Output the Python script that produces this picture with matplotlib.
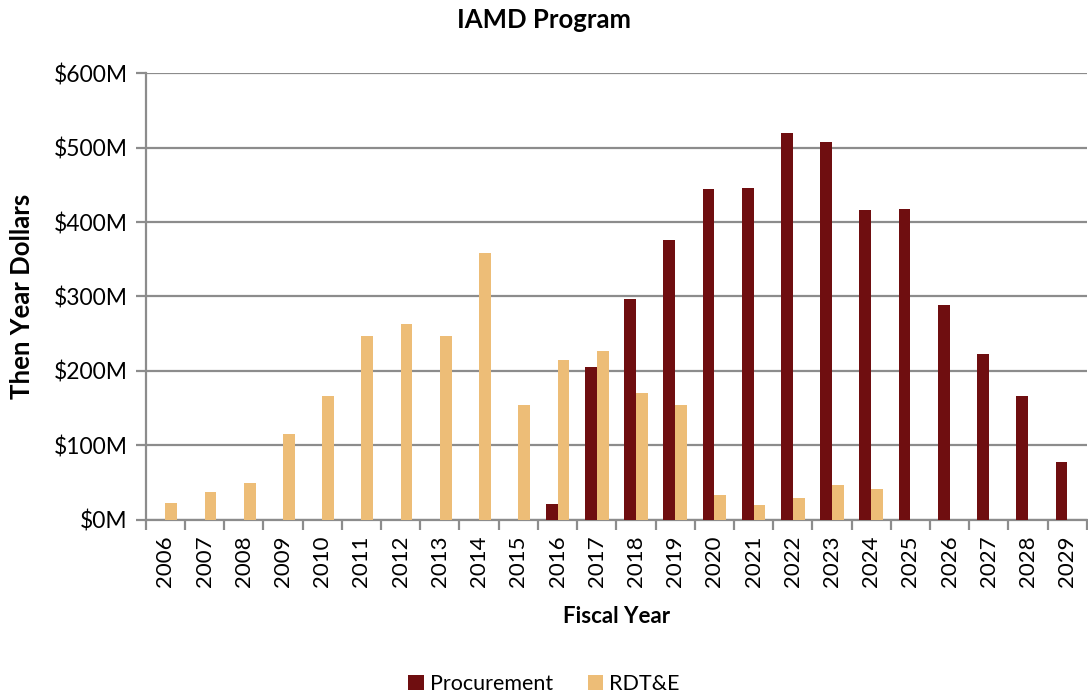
import numpy as np
import matplotlib.pyplot as plt
from matplotlib.ticker import FuncFormatter, MultipleLocator, FixedLocator

plt.rcParams["font.family"] = ["Lato", "DejaVu Sans"]

years = [str(y) for y in range(2006, 2030)]
procurement = [0, 0, 0, 0, 0, 0, 0, 0, 0, 0, 21, 205, 297, 376, 445, 446,
               519, 508, 416, 417, 289, 223, 166, 78]
rdte = [23, 37, 49, 116, 166, 247, 263, 247, 358, 154, 215, 227, 170, 154,
        33, 20, 29, 47, 41, 0, 0, 0, 0, 0]

proc_color = "#6F0E10"
rdte_color = "#EDBD77"
grid_color = "#8C8C8C"

fig = plt.figure(figsize=(10.88, 6.96), dpi=100)
ax = fig.add_axes([0.134, 0.253, 0.865, 0.642])

x = np.arange(len(years))
w = 0.3
ax.bar(x - w / 2, procurement, w, color=proc_color, label="Procurement", zorder=3)
ax.bar(x + w / 2, rdte, w, color=rdte_color, label="RDT&E", zorder=3)

ax.set_xlim(-0.5, len(years) - 0.5)
ax.set_ylim(0, 600)
ax.yaxis.set_major_locator(MultipleLocator(100))
ax.yaxis.set_major_formatter(FuncFormatter(lambda v, p: f"${v:.0f}M"))
ax.grid(axis="y", color=grid_color, lw=1.6, zorder=0)

# year labels at centres, tick marks at category borders
ax.set_xticks(x)
ax.set_xticklabels(years, rotation=90, fontsize=16)
ax.tick_params(axis="x", length=0, pad=11)
ax.xaxis.set_minor_locator(FixedLocator(np.arange(-0.5, len(years), 1)))
ax.tick_params(axis="x", which="minor", length=7, width=1.6, color=grid_color)
ax.tick_params(axis="y", labelsize=16.5, length=7, width=1.6, color=grid_color, pad=6)

for side in ["top", "right"]:
    ax.spines[side].set_visible(False)
ax.spines["left"].set_color(grid_color)
ax.spines["left"].set_linewidth(1.6)
ax.spines["bottom"].set_color(grid_color)
ax.spines["bottom"].set_linewidth(1.6)

fig.text(0.5, 1 - 20 / 696, "IAMD Program", fontsize=18.5, fontweight="bold",
         ha="center", va="center")
ax.set_xlabel("Fiscal Year", fontsize=16, fontweight="bold", labelpad=14)
ax.set_ylabel("Then Year Dollars", fontsize=18.5, fontweight="bold", va="center")
ax.yaxis.set_label_coords(-0.132, 0.5)

fig.legend(loc="lower center", bbox_to_anchor=(0.5, -0.025), ncol=2, frameon=False,
           fontsize=15.5, handlelength=0.7, handleheight=0.7, handletextpad=0.3,
           columnspacing=1.6)

fig.savefig("out.png", dpi=100)
